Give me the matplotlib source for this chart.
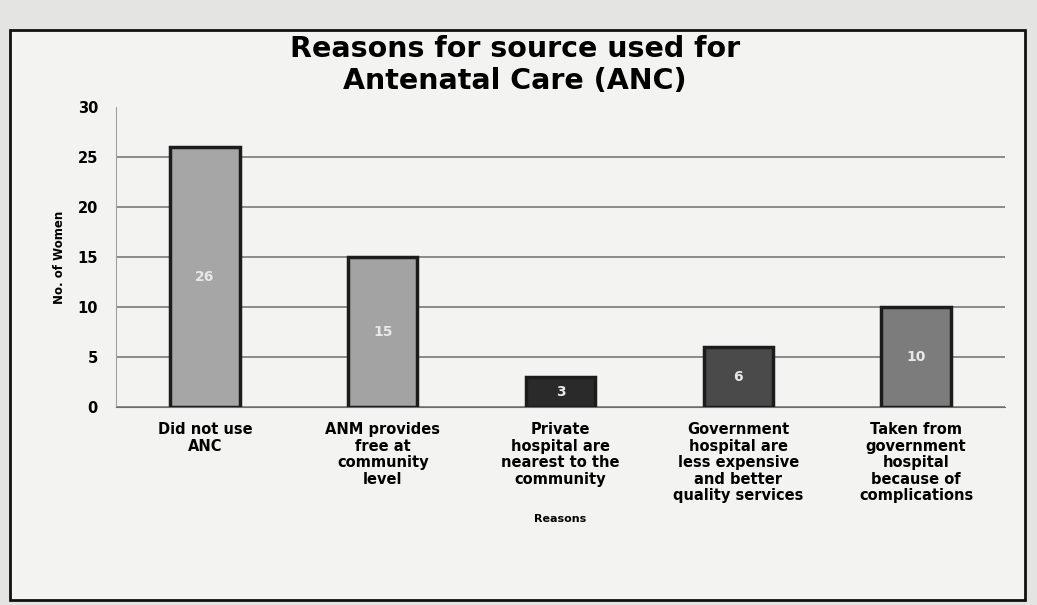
import matplotlib
matplotlib.use("Agg")
import matplotlib.pyplot as plt
from matplotlib.patches import Rectangle

categories = ["Did not use\nANC", "ANM provides\nfree at\ncommunity\nlevel",
              "Private\nhospital are\nnearest to the\ncommunity",
              "Government\nhospital are\nless expensive\nand better\nquality services",
              "Taken from\ngovernment\nhospital\nbecause of\ncomplications"]
values = [26, 15, 3, 6, 10]
bar_colors = ["#a6a6a6", "#a3a3a3", "#2a2a2a", "#4a4a4a", "#7c7c7c"]
yticks = [0, 5, 10, 15, 20, 25, 30]

plt.rcParams['font.family'] = ['DejaVu Sans']
fig = plt.figure(figsize=(10.37, 6.05), dpi=100)
fig.patch.set_facecolor("#e4e4e2")
frame = Rectangle((10/1037, 1-600/605), 1015/1037, 570/605, transform=fig.transFigure,
                  facecolor="#f3f3f1", edgecolor="#111111", linewidth=2, zorder=-5)
fig.patches.append(frame)

ax = fig.add_axes([116/1037, 1-407/605, 889/1037, 300/605])
ax.set_zorder(2)
ax.set_facecolor("none")
x = list(range(len(values)))
ax.bar(x, values, width=0.39, color=bar_colors, edgecolor="#1c1c1c", linewidth=2.5, zorder=3)
for xi, v in zip(x, values):
    ax.text(xi, v/2, str(v), ha="center", va="center", color="#e8e8e8",
            fontsize=10, fontweight="bold", zorder=4)
ax.set_ylim(0, 30)
ax.set_xlim(-0.5, 4.5)
ax.set_yticks(yticks)
ax.set_yticklabels([str(t) for t in yticks], fontsize=10.5, fontweight="bold")
ax.set_xticks(x)
ax.set_xticklabels(categories, fontsize=10.5, fontweight="bold", va="top", linespacing=1.12)
ax.tick_params(axis="y", length=0, pad=13)
ax.tick_params(axis="x", length=0, pad=11)
ax.yaxis.grid(True, color="#6e6e6e", linewidth=1.1, zorder=0)
ax.get_ygridlines()[-1].set_visible(False)
for s in ["top", "right"]:
    ax.spines[s].set_visible(False)
ax.spines["left"].set_color("#a0a0a0")
ax.spines["bottom"].set_color("#6e6e6e")
ax.set_ylabel("No. of Women", fontsize=8.5, fontweight="bold", labelpad=8)
ax.set_xlabel("Reasons", fontsize=8, fontweight="bold", labelpad=8)
fig.text(515/1037, 1-65/605, "Reasons for source used for\nAntenatal Care (ANC)", ha="center",
         va="center", fontsize=20.5, fontweight="bold", linespacing=1.2)
fig.savefig("out.png", dpi=100, facecolor=fig.get_facecolor())
